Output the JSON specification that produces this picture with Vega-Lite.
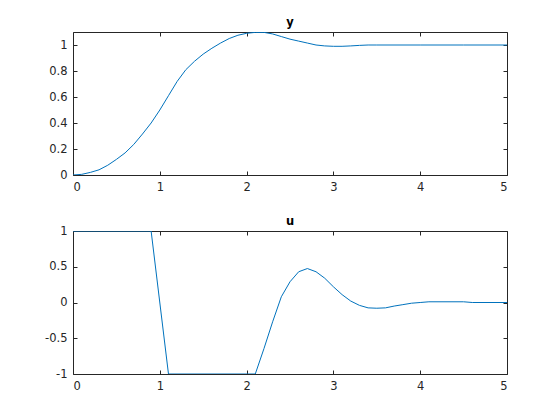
{
  "$schema": "https://vega.github.io/schema/vega-lite/v6.json",
  "background": "white",
  "padding": {"left": 44, "top": 17, "right": 20, "bottom": 10},
  "spacing": 56,
  "bounds": "flush",
  "config": {
    "view": {"stroke": null},
    "axis": {
      "grid": false,
      "domainColor": "#262626",
      "domainWidth": 1,
      "tickColor": "#262626",
      "tickWidth": 1,
      "tickSize": -4,
      "labelColor": "#262626",
      "labelFont": "DejaVu Sans",
      "labelFontSize": 11.5,
      "title": null
    },
    "title": {"font": "DejaVu Sans", "fontSize": 11.5, "fontWeight": "bold", "color": "#000000", "anchor": "middle"}
  },
  "datasets": {
    "y": [
      {"t": 0, "v": 0}, {"t": 0.1, "v": 0.005}, {"t": 0.2, "v": 0.02}, {"t": 0.3, "v": 0.04},
      {"t": 0.4, "v": 0.075}, {"t": 0.5, "v": 0.12}, {"t": 0.6, "v": 0.17}, {"t": 0.7, "v": 0.235},
      {"t": 0.8, "v": 0.315}, {"t": 0.9, "v": 0.4}, {"t": 1.0, "v": 0.5}, {"t": 1.1, "v": 0.61},
      {"t": 1.2, "v": 0.72}, {"t": 1.3, "v": 0.81}, {"t": 1.4, "v": 0.875}, {"t": 1.5, "v": 0.93},
      {"t": 1.6, "v": 0.975}, {"t": 1.7, "v": 1.015}, {"t": 1.8, "v": 1.05}, {"t": 1.9, "v": 1.075},
      {"t": 2.0, "v": 1.09}, {"t": 2.1, "v": 1.097}, {"t": 2.2, "v": 1.097}, {"t": 2.3, "v": 1.085},
      {"t": 2.4, "v": 1.065}, {"t": 2.5, "v": 1.045}, {"t": 2.6, "v": 1.03}, {"t": 2.7, "v": 1.015},
      {"t": 2.8, "v": 1.0}, {"t": 2.9, "v": 0.993}, {"t": 3.0, "v": 0.99}, {"t": 3.1, "v": 0.99},
      {"t": 3.2, "v": 0.993}, {"t": 3.3, "v": 0.997}, {"t": 3.4, "v": 1.0}, {"t": 3.5, "v": 1.0},
      {"t": 4.0, "v": 1.0}, {"t": 4.5, "v": 1.0}, {"t": 5.0, "v": 1.0}
    ],
    "u": [
      {"t": 0, "v": 1}, {"t": 0.9, "v": 1}, {"t": 1.1, "v": -1}, {"t": 2.1, "v": -1},
      {"t": 2.2, "v": -0.645}, {"t": 2.3, "v": -0.27}, {"t": 2.4, "v": 0.08}, {"t": 2.5, "v": 0.29},
      {"t": 2.6, "v": 0.43}, {"t": 2.7, "v": 0.475}, {"t": 2.8, "v": 0.43}, {"t": 2.9, "v": 0.34},
      {"t": 3.0, "v": 0.22}, {"t": 3.1, "v": 0.11}, {"t": 3.2, "v": 0.02}, {"t": 3.3, "v": -0.04},
      {"t": 3.4, "v": -0.075}, {"t": 3.5, "v": -0.08}, {"t": 3.6, "v": -0.075}, {"t": 3.7, "v": -0.05},
      {"t": 3.8, "v": -0.03}, {"t": 3.9, "v": -0.01}, {"t": 4.0, "v": 0.0}, {"t": 4.1, "v": 0.01},
      {"t": 4.5, "v": 0.01}, {"t": 4.6, "v": 0}, {"t": 5.0, "v": 0}
    ]
  },
  "vconcat": [
    {
      "width": 434,
      "height": 143,
      "title": {"text": "y", "offset": 3},
      "layer": [
        {
          "data": {"name": "y"},
          "mark": {"type": "line", "color": "#0072BD", "strokeWidth": 1, "clip": true},
          "encoding": {
            "x": {"field": "t", "type": "quantitative", "scale": {"domain": [0, 5], "nice": false},
                  "axis": {"values": [0, 1, 2, 3, 4, 5], "labelPadding": 10, "labelExpr": "'' + datum.value"}},
            "y": {"field": "v", "type": "quantitative", "scale": {"domain": [0, 1.1], "nice": false, "zero": false},
                  "axis": {"values": [0, 0.2, 0.4, 0.6, 0.8, 1], "labelPadding": 10, "labelExpr": "'' + datum.value"}}
          }
        },
        {
          "data": {"name": "y"},
          "mark": {"type": "line", "opacity": 0},
          "encoding": {
            "x": {"field": "t", "type": "quantitative", "axis": {"orient": "top", "values": [0, 1, 2, 3, 4, 5], "labels": false}},
            "y": {"field": "v", "type": "quantitative", "axis": {"orient": "right", "values": [0, 0.2, 0.4, 0.6, 0.8, 1], "labels": false}}
          }
        }
      ],
      "resolve": {"axis": {"x": "independent", "y": "independent"}}
    },
    {
      "width": 434,
      "height": 143,
      "title": {"text": "u", "offset": -2},
      "layer": [
        {
          "data": {"name": "u"},
          "mark": {"type": "line", "color": "#0072BD", "strokeWidth": 1, "clip": true},
          "encoding": {
            "x": {"field": "t", "type": "quantitative", "scale": {"domain": [0, 5], "nice": false},
                  "axis": {"values": [0, 1, 2, 3, 4, 5], "labelPadding": 10, "labelExpr": "'' + datum.value"}},
            "y": {"field": "v", "type": "quantitative", "scale": {"domain": [-1, 1], "nice": false, "zero": false},
                  "axis": {"values": [-1, -0.5, 0, 0.5, 1], "labelPadding": 10, "labelExpr": "'' + datum.value"}}
          }
        },
        {
          "data": {"name": "u"},
          "mark": {"type": "line", "opacity": 0},
          "encoding": {
            "x": {"field": "t", "type": "quantitative", "axis": {"orient": "top", "values": [0, 1, 2, 3, 4, 5], "labels": false}},
            "y": {"field": "v", "type": "quantitative", "axis": {"orient": "right", "values": [-1, -0.5, 0, 0.5, 1], "labels": false}}
          }
        }
      ],
      "resolve": {"axis": {"x": "independent", "y": "independent"}}
    }
  ]
}
